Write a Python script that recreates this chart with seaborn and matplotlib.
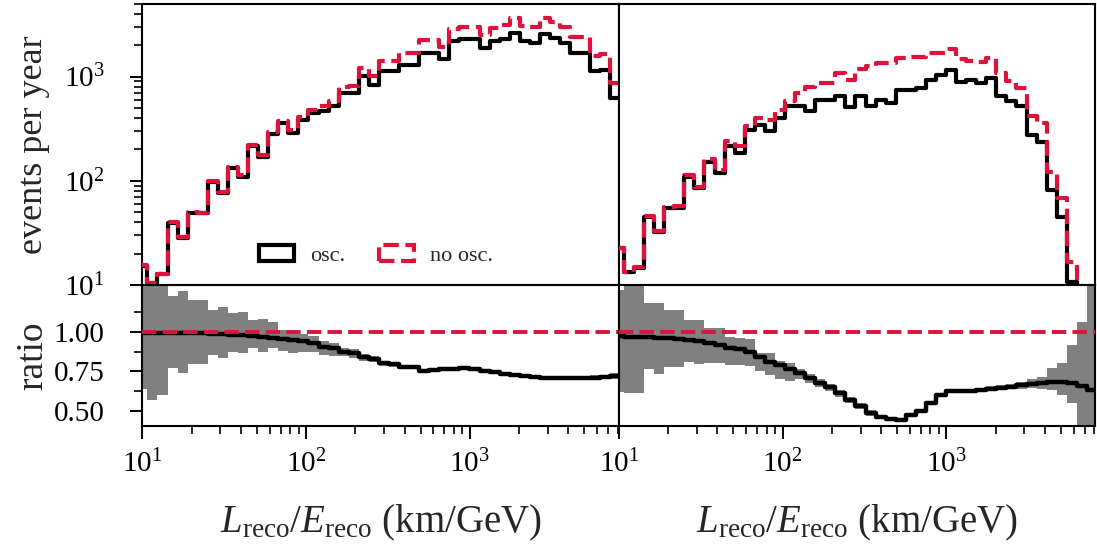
import numpy as np
import matplotlib
matplotlib.use("Agg")
import matplotlib.pyplot as plt
import matplotlib.patches as mpatches
from matplotlib.ticker import FixedLocator, FormatStrFormatter, LogLocator, NullFormatter
import seaborn as sns

# ---------------------------------------------------------------- data
# common binning in log10(L/E)
log_edges = np.linspace(0.97, 3.92, 49)

# left panel: events per year
left_osc = [15.3, 10.5, 12.8, 39.7, 28.7, 49.5, 49.0, 98, 77, 132, 110, 214,
            171, 283, 359, 289, 386, 448, 470, 519, 697, 697, 1007, 838,
            1125, 1125, 1303, 1303, 1690, 1690, 1455, 2190, 2270, 2300, 1890, 2190,
            2300, 2630, 2190, 2110, 2570, 2355, 2110, 1690, 1690, 1125, 1166, 624]
left_noosc = [15.5, 10.6, 12.9, 40.1, 29.0, 50.0, 49.6, 99.4, 78.3, 134.7, 112.7, 220,
              176.8, 294, 376, 306, 411, 482, 519, 580, 797, 806, 1199, 1010,
              1406, 1415, 1670, 1681, 2238, 2224, 1902, 2852, 2948, 3006, 2503, 2940,
              3129, 3628, 3042, 2951, 3620, 3317, 2972, 2380, 2380, 1580, 1631, 867]
left_ratio = [0.99, 0.99, 0.99, 0.99, 0.99, 0.99, 0.988, 0.986, 0.983, 0.98, 0.976, 0.972,
              0.967, 0.962, 0.955, 0.945, 0.94, 0.93, 0.905, 0.895, 0.875, 0.865, 0.84, 0.83,
              0.80, 0.795, 0.78, 0.775, 0.755, 0.76, 0.765, 0.768, 0.77, 0.765, 0.755, 0.745,
              0.735, 0.725, 0.72, 0.715, 0.71, 0.71, 0.71, 0.71, 0.71, 0.712, 0.715, 0.72]
left_band_hi = [1.40, 1.40, 1.40, 1.225, 1.256, 1.20, 1.20, 1.137, 1.154, 1.116, 1.122, 1.074,
                1.08, 1.057, 1.011, 0.99, 0.985, 0.975, 0.94, 0.93, 0.90, 0.89, 0.86, 0.85,
                0.815, 0.81, 0.792, 0.787, 0.767, 0.772, 0.777, 0.78, 0.782, 0.777, 0.767, 0.757,
                0.747, 0.737, 0.732, 0.727, 0.722, 0.722, 0.722, 0.722, 0.723, 0.726, 0.73, 0.74]
left_band_lo = [0.643, 0.57, 0.60, 0.77, 0.738, 0.796, 0.796, 0.853, 0.832, 0.874, 0.864, 0.895,
                0.874, 0.895, 0.88, 0.864, 0.875, 0.87, 0.855, 0.85, 0.845, 0.835, 0.815, 0.81,
                0.785, 0.78, 0.768, 0.763, 0.743, 0.748, 0.753, 0.756, 0.758, 0.753, 0.743, 0.733,
                0.723, 0.713, 0.708, 0.703, 0.698, 0.698, 0.698, 0.698, 0.697, 0.698, 0.70, 0.70]

# right panel: events per year
right_osc = [23, 13.4, 14.5, 45, 32.6, 54.6, 54.6, 110, 85, 153, 119, 214,
             185, 309, 345, 298, 401, 519, 519, 464, 601, 601, 647, 511,
             647, 526, 601, 558, 738, 738, 773, 935, 1045, 1143, 881, 921,
             872, 971, 657, 580, 526, 277, 234, 82, 45, 10.8, 3, 0.5]
right_noosc = [23, 13.4, 15, 46, 33, 56, 57, 113, 88, 161, 128, 239,
               214, 333, 401, 386, 482, 580, 697, 796, 872, 872, 1070, 935,
               1186, 1256, 1353, 1353, 1510, 1540, 1540, 1690, 1690, 1820, 1456, 1403,
               1374, 1510, 1070, 902, 778, 415, 359, 123, 68, 16.7, 5, 0.5]
right_ratio = [0.97, 0.968, 0.966, 0.963, 0.96, 0.957, 0.952, 0.946, 0.94, 0.93, 0.918, 0.90,
               0.89, 0.875, 0.84, 0.812, 0.79, 0.765, 0.74, 0.71, 0.68, 0.65, 0.615, 0.57,
               0.535, 0.49, 0.465, 0.452, 0.445, 0.478, 0.505, 0.555, 0.60, 0.63, 0.63, 0.625,
               0.635, 0.642, 0.648, 0.655, 0.662, 0.67, 0.678, 0.685, 0.683, 0.676, 0.66, 0.635]
right_band_hi = [1.26, 1.40, 1.40, 1.179, 1.179, 1.137, 1.137, 1.074, 1.074, 1.025, 1.025, 0.965,
                 0.96, 0.955, 0.864, 0.864, 0.815, 0.80, 0.765, 0.735, 0.70, 0.67, 0.635, 0.59,
                 0.555, 0.51, 0.48, 0.465, 0.457, 0.49, 0.517, 0.567, 0.612, 0.642, 0.642, 0.637,
                 0.648, 0.656, 0.663, 0.672, 0.683, 0.705, 0.716, 0.77, 0.80, 0.916, 1.063, 1.40]
right_band_lo = [0.62, 0.612, 0.612, 0.763, 0.735, 0.778, 0.778, 0.811, 0.795, 0.80, 0.80, 0.79,
                 0.79, 0.785, 0.75, 0.73, 0.70, 0.69, 0.70, 0.68, 0.655, 0.625, 0.59, 0.55,
                 0.515, 0.47, 0.45, 0.44, 0.433, 0.466, 0.493, 0.543, 0.588, 0.618, 0.618, 0.613,
                 0.622, 0.628, 0.633, 0.638, 0.641, 0.645, 0.643, 0.633, 0.60, 0.55, 0.40, 0.38]

x_tick_values = [10, 100, 1000]
ratio_tick_values = [0.50, 0.75, 1.00]

# ---------------------------------------------------------------- style
RED = "#dc143c"
BAND = "#808080"

sns.set_theme(style="ticks")
plt.rcParams.update({
    "font.family": "serif",
    "font.serif": ["Liberation Serif", "DejaVu Serif"],
    "mathtext.fontset": "custom",
    "mathtext.rm": "Liberation Serif",
    "mathtext.it": "Liberation Serif:italic",
    "mathtext.bf": "Liberation Serif:bold",
    "axes.edgecolor": "black",
    "axes.linewidth": 1.5,
    "xtick.color": "black",
    "ytick.color": "black",
})

fig = plt.figure(figsize=(10.97, 5.51), dpi=100)
gs = fig.add_gridspec(2, 2, left=0.1297, right=0.9985, top=0.9936, bottom=0.2274,
                      height_ratios=[281.8, 140.4], hspace=0, wspace=0)
ax_tl = fig.add_subplot(gs[0, 0])
ax_tr = fig.add_subplot(gs[0, 1], sharey=ax_tl)
ax_bl = fig.add_subplot(gs[1, 0], sharex=ax_tl)
ax_br = fig.add_subplot(gs[1, 1], sharex=ax_tr, sharey=ax_bl)

bin_list = list(log_edges)
centers = 10 ** (0.5 * (log_edges[:-1] + log_edges[1:]))
edges = 10 ** log_edges
x_max = 10 ** 3.91

LW = 3.0


def draw_spectra(ax, osc, noosc):
    sns.histplot(x=centers, weights=osc, bins=bin_list, element="step", fill=False,
                 color="black", lw=LW, log_scale=(True, True), ax=ax, zorder=3)
    sns.histplot(x=centers, weights=noosc, bins=bin_list, element="step", fill=False,
                 color=RED, lw=LW, linestyle="--", log_scale=(True, True), ax=ax, zorder=4)


def draw_ratio(ax, ratio, lo, hi):
    ax.stairs(hi, edges, baseline=lo, fill=True, color=BAND, lw=0, zorder=1)
    sns.histplot(x=centers, weights=ratio, bins=bin_list, element="step", fill=False,
                 color="black", lw=3.2, log_scale=(True, False), ax=ax, zorder=3)
    ax.axhline(1.0, color=RED, ls="--", lw=2.8, zorder=4)


draw_spectra(ax_tl, left_osc, left_noosc)
draw_spectra(ax_tr, right_osc, right_noosc)
draw_ratio(ax_bl, left_ratio, left_band_lo, left_band_hi)
draw_ratio(ax_br, right_ratio, right_band_lo, right_band_hi)

TICK_FS = 21
LABEL_FS = 26

for ax in (ax_tl, ax_tr, ax_bl, ax_br):
    ax.set_xscale("log")
    ax.set_xlim(10, x_max)
    ax.xaxis.set_major_locator(FixedLocator(x_tick_values))
    ax.xaxis.set_minor_locator(LogLocator(base=10, subs=np.arange(2, 10), numticks=20))
    ax.xaxis.set_minor_formatter(NullFormatter())
    ax.tick_params(which="major", direction="out", length=9, width=1.4,
                   labelsize=TICK_FS, pad=8)
    ax.tick_params(which="minor", direction="out", length=5.5, width=1.2)
    ax.tick_params(top=False, right=False)
    for side in ax.spines.values():
        side.set_linewidth(1.5)
        side.set_color("black")
    ax.set_xlabel("")
    ax.set_ylabel("")

ax_tl.set_yscale("log")
ax_tl.set_ylim(10, 5000)
ax_tl.yaxis.set_major_locator(LogLocator(base=10, numticks=10))
ax_tl.yaxis.set_minor_locator(LogLocator(base=10, subs=np.arange(2, 10), numticks=20))
ax_tl.yaxis.set_minor_formatter(NullFormatter())

ax_bl.set_ylim(0.41, 1.29)
ax_bl.yaxis.set_major_locator(FixedLocator(ratio_tick_values))
ax_bl.yaxis.set_major_formatter(FormatStrFormatter("%.2f"))
ax_bl.yaxis.set_minor_locator(FixedLocator([0.625, 0.875, 1.125]))

for ax in (ax_tl, ax_bl):
    ax.tick_params(axis="y", which="major", pad=18)

for ax in (ax_tl, ax_tr):
    ax.tick_params(axis="x", which="both", bottom=False, labelbottom=False)
for ax in (ax_tr, ax_br):
    ax.tick_params(axis="y", which="both", left=False, labelleft=False)

ax_tl.set_ylabel("events per year", fontsize=LABEL_FS)
ax_bl.set_ylabel("ratio", fontsize=LABEL_FS + 1)
for ax in (ax_tl, ax_bl):
    ax.yaxis.set_label_coords(-0.193, 0.5)

xlabel = r"$L_\mathrm{reco}/E_\mathrm{reco}$ (km/GeV)"
for ax in (ax_bl, ax_br):
    ax.set_xlabel(xlabel, fontsize=28, labelpad=18)

handles = [
    mpatches.Patch(facecolor="none", edgecolor="black", lw=LW, label="osc."),
    mpatches.Patch(facecolor="none", edgecolor=RED, lw=LW, ls="--", label="no osc."),
]
ax_tl.legend(handles=handles, loc="center", bbox_to_anchor=(0.49, 0.105), ncol=2,
             frameon=False, fontsize=16, handlelength=1.6, handleheight=0.7,
             handletextpad=0.7, columnspacing=1.5)

fig.savefig("out.png", dpi=100)
